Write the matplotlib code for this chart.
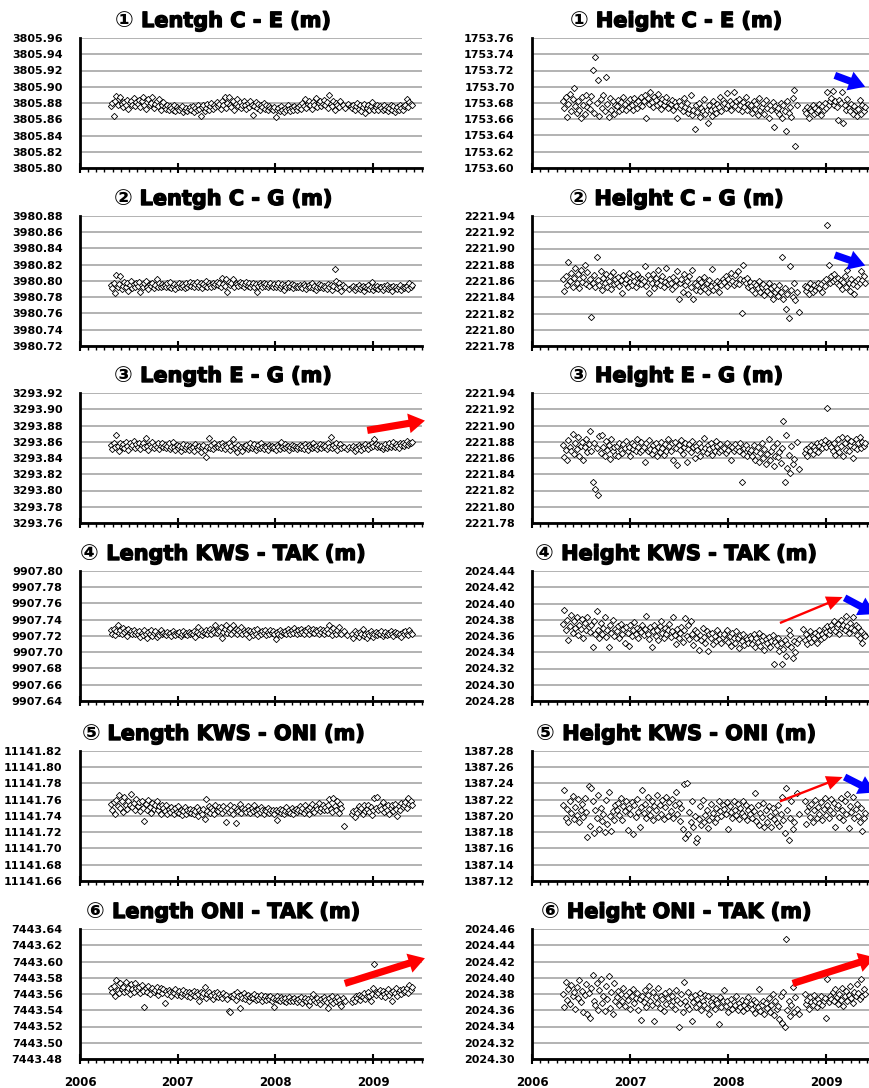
import matplotlib
matplotlib.use('Agg')
import matplotlib.pyplot as plt
import matplotlib.patheffects as pe
from matplotlib.ticker import MultipleLocator, FormatStrFormatter
import numpy as np
import pandas as pd

# observation epochs (every 5 days)
epochs = pd.date_range('2006-04-27', '2009-05-30', freq='5D')

titles = [
    ('\u2460 Lentgh C - E (m)', '\u2460 Height C - E (m)'),
    ('\u2461 Lentgh C - G (m)', '\u2461 Height C - G (m)'),
    ('\u2462 Length E - G (m)', '\u2462 Height E - G (m)'),
    ('\u2463 Length KWS - TAK (m)', '\u2463 Height KWS - TAK (m)'),
    ('\u2464 Length KWS - ONI (m)', '\u2464 Height KWS - ONI (m)'),
    ('\u2465 Length ONI - TAK (m)', '\u2465 Height ONI - TAK (m)'),
]

# y-axis lower limits (range is 0.16 m for every panel)
ylow = [(3805.80, 1753.60), (3980.72, 2221.78), (3293.76, 2221.78),
        (9907.64, 2024.28), (11141.66, 1387.12), (7443.48, 2024.30)]

# base value for each series, offsets below are in mm
bases = [(3805.860, 1753.600), (3980.780, 2221.800), (3293.840, 2221.800),
         (9907.710, 2024.300), (11141.730, 1387.100), (7443.530, 2024.300)]

len_ce = [16, 20, 4, 23, 29, 18, 25, 28, 19, 15, 21, 17, 24, 13, 20, 22, 18, 26, 16, 21,
          19, 24, 15, 22, 27, 18, 13, 21, 25, 17, 20, 28, 14, 19, 23, 16, 25, 12, 18, 21,
          15, 13, 17, 11, 16, 14, 12, 18, 10, 15, 13, 11, 14, 16, 9, 12, 14, 10, 13, 15,
          11, 16, 9, 14, 12, 18, 13, 4, 15, 17, 10, 14, 19, 12, 16, 20, 13, 17, 15, 21,
          16, 19, 13, 22, 17, 27, 14, 20, 28, 18, 15, 23, 12, 19, 25, 16, 21, 14, 18, 22,
          17, 13, 20, 15, 22, 18, 5, 16, 21, 14, 19, 12, 17, 15, 20, 13, 18, 11, 16, 14,
          13, 11, 15, 3, 12, 14, 10, 16, 12, 9, 14, 11, 17, 13, 10, 15, 12, 16, 14, 11,
          15, 18, 13, 20, 16, 25, 14, 19, 22, 17, 13, 21, 18, 26, 15, 20, 23, 16, 19, 24,
          17, 21, 14, 30, 19, 16, 23, 12, 20, 18, 15, 22, None, 17, None, 14, None, 19, None, 16,
          14, 18, 12, 16, 20, 13, 17, 10, 15, 19, 8, 14, 17, 12, 16, 21, 13, 11, 15, 18,
          12, 16, 14, 11, 17, 13, 15, 10, 14, 18, 12, 16, 9, 13, 15, 11, 17, 14, 12, 16,
          18, 25, 15, 21, 19, 17]

hgt_ce = [82, 74, 88, 63, 79, 91, 70, 85, 99, 76, 68, 83, 72, 62, 87, 78, 66, 90, 75, 81,
          73, 89, 121, 68, 137, 80, 108, 64, 85, 74, 90, 70, 112, 79, 63, 86, 72, 83, 67, 78,
          76, 84, 70, 81, 73, 87, 79, 71, 83, 75, 85, 77, 72, 86, 80, 74, 82, 78, 88, 76,
          83, 90, 61, 86, 79, 93, 81, 75, 88, 84, 77, 91, 80, 73, 85, 78, 82, 87, 74, 80,
          79, 84, 72, 81, 76, 61, 83, 74, 78, 70, 86, 75, 80, 68, 73, 90, 65, 71, 48, 77,
          69, 80, 63, 74, 70, 85, 66, 72, 55, 77, 71, 64, 82, 73, 68, 79, 75, 88, 70, 84,
          80, 74, 92, 77, 83, 71, 79, 94, 76, 82, 73, 85, 78, 70, 81, 75, 87, 72, 79, 76,
          77, 68, 82, 73, 79, 65, 86, 71, 75, 80, 67, 84, 74, 62, 78, 72, 81, 51, 76, 70,
          74, 66, 80, 61, 77, 70, 46, 83, 68, 75, 63, 86, 96, 27, 78, None, None, None, None, None,
          71, 68, 75, 62, 73, 70, 77, 66, 74, 69, 72, 79, 65, 76, 71, 80, 74, 94, 78, 83,
          86, 95, 77, 82, 75, 59, 84, 80, 94, 56, 78, 72, 85, 74, 70, 79, 67, 76, 71, 64,
          73, 84, 66, 78, 70, 75]

len_cg = [15, 11, 18, 5, 27, 13, 16, 26, 10, 14, 19, 12, 17, 8, 15, 20, 11, 16, 13, 18,
          14, 19, 6, 15, 12, 17, 20, 13, 10, 16, 14, 18, 11, 15, 22, 13, 17, 12, 16, 14,
          15, 12, 17, 13, 19, 11, 14, 16, 10, 15, 13, 18, 12, 16, 14, 11, 17, 13, 15, 19,
          14, 17, 12, 16, 19, 13, 15, 18, 11, 16, 14, 20, 13, 17, 15, 12, 18, 14, 16, 19,
          15, 18, 13, 24, 16, 14, 23, 7, 19, 15, 17, 22, 12, 18, 16, 14, 19, 15, 17, 13,
          16, 19, 14, 17, 12, 15, 18, 13, 16, 7, 14, 17, 15, 12, 18, 14, 16, 13, 15, 17,
          14, 12, 16, 13, 15, 17, 11, 14, 16, 9, 15, 13, 17, 12, 14, 16, 11, 15, 13, 14,
          12, 15, 13, 11, 16, 14, 10, 13, 15, 12, 17, 11, 14, 9, 13, 16, 12, 15, 11, 14,
          13, 10, 16, 12, 15, 9, 14, 35, 20, 11, 17, 13, 8, 15, None, 12, None, None, 10, None,
          12, 14, 9, 13, 11, 15, 10, 12, 14, 8, 13, 11, 15, 10, 12, 19, 9, 13, 11, 14,
          10, 13, 12, 9, 14, 11, 15, 10, 13, 12, 8, 14, 11, 13, 10, 12, 15, 9, 13, 11,
          12, 14, 10, 17, 13, 15]

hgt_cg = [62, 48, 66, 55, 83, 60, 70, 53, 64, 76, 57, 68, 51, 73, 59, 65, 80, 56, 71, 54,
          63, 16, 58, 67, 52, 89, 61, 55, 72, 49, 64, 57, 69, 53, 60, 66, 50, 71, 56, 62,
          58, 65, 54, 61, 45, 67, 57, 63, 52, 70, 59, 55, 66, 60, 53, 68, 58, 64, 56, 62,
          60, 79, 54, 67, 45, 62, 58, 69, 51, 64, 57, 73, 55, 61, 66, 52, 59, 76, 56, 63,
          58, 50, 65, 54, 61, 72, 38, 57, 63, 47, 68, 55, 60, 44, 66, 52, 74, 38, 58, 49,
          55, 62, 48, 59, 53, 65, 50, 57, 46, 61, 54, 75, 49, 56, 52, 60, 47, 58, 55, 63,
          59, 66, 54, 62, 57, 70, 60, 55, 67, 58, 72, 56, 63, 21, 80, 61, 57, 64, 52, 59,
          54, 49, 58, 45, 55, 51, 60, 47, 53, 56, 43, 52, 48, 57, 44, 51, 38, 54, 46, 50,
          42, 55, 47, 89, 38, 51, 26, 44, 15, 78, 49, 40, 58, 36, 46, None, 22, None, None, None,
          54, 48, 52, 44, 57, 50, 46, 55, 49, 53, 58, 51, 56, 47, 60, 54, 62, 129, 80, 57,
          66, 60, 68, 63, 57, 64, 55, 61, 50, 59, 66, 53, 73, 58, 48, 62, 56, 44, 60, 54,
          63, 58, 72, 61, 66, 57]

len_eg = [16, 11, 18, 13, 28, 15, 9, 19, 14, 17, 12, 20, 15, 10, 18, 13, 16, 21, 12, 17,
          14, 18, 11, 16, 19, 13, 25, 15, 10, 17, 14, 20, 12, 16, 13, 18, 11, 15, 19, 14,
          16, 12, 15, 18, 11, 14, 20, 13, 10, 16, 12, 15, 9, 14, 17, 11, 13, 16, 10, 15,
          12, 14, 9, 17, 13, 11, 15, 8, 13, 16, 10, 1, 14, 25, 12, 16, 11, 18, 13, 15,
          14, 17, 12, 19, 15, 11, 16, 13, 18, 10, 15, 23, 12, 14, 8, 16, 11, 13, 9, 15,
          13, 16, 11, 14, 19, 12, 15, 17, 10, 14, 16, 12, 18, 13, 11, 15, 14, 10, 16, 13,
          15, 12, 14, 10, 16, 13, 11, 20, 14, 12, 17, 13, 15, 10, 14, 16, 12, 15, 13, 11,
          14, 16, 12, 15, 11, 17, 13, 10, 16, 14, 12, 18, 13, 15, 11, 14, 17, 12, 16, 13,
          15, 11, 18, 14, 26, 12, 16, 13, 19, 10, 15, 17, 12, None, 14, None, 11, None, 13, None,
          12, 15, 9, 14, 11, 16, 13, 10, 15, 12, 17, 14, 11, 16, 13, 19, 15, 24, 17, 14,
          16, 13, 15, 11, 14, 17, 12, 15, 18, 13, 16, 20, 14, 17, 15, 12, 18, 16, 19, 15,
          17, 21, 16, 19, 18, 20]

hgt_eg = [76, 61, 70, 57, 82, 74, 68, 89, 65, 78, 71, 86, 63, 75, 80, 58, 73, 84, 67, 77,
          93, 69, 31, 79, 22, 72, 15, 87, 66, 88, 74, 62, 81, 70, 76, 59, 83, 68, 73, 64,
          75, 62, 79, 70, 66, 77, 72, 81, 68, 74, 63, 78, 71, 76, 69, 83, 73, 67, 80, 70,
          74, 55, 78, 68, 82, 71, 65, 76, 70, 79, 62, 73, 67, 80, 72, 64, 77, 69, 83, 75,
          68, 78, 57, 80, 72, 51, 76, 70, 82, 65, 74, 79, 55, 71, 77, 67, 81, 73, 60, 75,
          70, 78, 63, 74, 68, 85, 72, 66, 76, 71, 79, 64, 73, 69, 81, 75, 67, 77, 70, 74,
          72, 66, 78, 70, 75, 57, 73, 68, 77, 71, 74, 69, 79, 31, 65, 72, 76, 63, 71, 67,
          70, 62, 76, 58, 68, 73, 55, 66, 78, 60, 71, 52, 65, 84, 57, 69, 74, 50, 63, 79,
          61, 67, 54, 72, 106, 31, 88, 48, 64, 41, 75, 53, 59, None, 80, None, 46, None, None, None,
          66, 71, 62, 74, 68, 76, 65, 73, 70, 78, 67, 75, 80, 72, 77, 82, 74, 122, 79, 76,
          73, 69, 78, 64, 72, 84, 67, 75, 86, 62, 79, 70, 85, 68, 76, 81, 60, 74, 83, 71,
          78, 86, 72, 80, 75, 79]

len_kt = [17, 13, 19, 11, 16, 23, 14, 18, 12, 20, 15, 17, 10, 19, 14, 16, 12, 18, 13, 15,
          12, 16, 9, 14, 11, 17, 13, 8, 15, 12, 18, 10, 14, 16, 9, 13, 11, 17, 12, 14,
          13, 11, 15, 12, 14, 10, 16, 13, 11, 14, 12, 15, 10, 13, 16, 12, 14, 11, 15, 13,
          14, 12, 16, 9, 15, 21, 13, 17, 11, 15, 14, 18, 12, 16, 19, 13, 17, 15, 24, 14,
          18, 16, 21, 8, 15, 19, 23, 14, 17, 20, 13, 24, 16, 19, 12, 18, 15, 21, 13, 17,
          15, 12, 18, 9, 16, 14, 11, 17, 13, 19, 10, 15, 12, 16, 14, 18, 11, 15, 13, 17,
          14, 16, 12, 6, 15, 13, 17, 11, 15, 14, 16, 12, 19, 15, 13, 17, 14, 20, 16, 13,
          17, 14, 19, 15, 12, 18, 16, 20, 13, 17, 15, 19, 14, 18, 16, 12, 19, 15, 17, 13,
          16, 19, 14, 24, 18, 11, 20, 15, 13, 17, 21, 14, 12, None, 16, None, 11, None, None, None,
          13, 7, 16, 11, 14, 9, 15, 12, 19, 10, 13, 8, 14, 11, 16, 12, 9, 13, 15, 11,
          14, 12, 16, 10, 13, 15, 11, 14, 12, 16, 13, 10, 15, 12, 14, 11, 13, 9, 15, 12,
          16, 13, 11, 17, 14, 12]

hgt_kt = [75, 92, 68, 80, 55, 72, 86, 64, 78, 70, 83, 61, 74, 69, 81, 58, 76, 67, 84, 71,
          65, 73, 47, 79, 63, 91, 68, 57, 76, 62, 70, 83, 59, 67, 46, 74, 64, 80, 60, 69,
          66, 72, 58, 75, 62, 69, 51, 71, 64, 48, 73, 60, 67, 77, 63, 70, 57, 68, 65, 74,
          61, 69, 85, 63, 56, 71, 47, 66, 74, 60, 68, 55, 72, 79, 64, 58, 70, 62, 67, 75,
          59, 66, 83, 61, 50, 69, 57, 64, 71, 53, 67, 82, 60, 73, 56, 78, 63, 49, 68, 58,
          65, 43, 61, 55, 70, 59, 52, 66, 41, 62, 57, 64, 50, 60, 54, 68, 56, 63, 51, 59,
          62, 55, 67, 53, 60, 48, 64, 57, 51, 66, 58, 45, 61, 54, 63, 49, 59, 56, 52, 60,
          57, 50, 62, 46, 58, 53, 64, 48, 55, 60, 43, 56, 51, 59, 47, 54, 61, 25, 53, 49,
          58, 42, 52, 25, 44, 55, 36, 50, 68, 61, 47, 33, 54, 40, 52, None, 56, None, None, 69,
          55, 62, 50, 58, 66, 53, 60, 57, 64, 51, 61, 68, 56, 63, 59, 70, 65, 72, 62, 67,
          74, 69, 78, 66, 71, 75, 63, 80, 70, 73, 67, 85, 72, 64, 76, 70, 83, 68, 74, 61,
          71, 58, 66, 52, 63, 60]

len_ko = [25, 18, 27, 12, 30, 22, 36, 20, 28, 15, 33, 24, 19, 29, 23, 37, 21, 26, 17, 31,
          22, 27, 16, 29, 20, 4, 25, 18, 30, 21, 14, 26, 19, 23, 28, 17, 22, 13, 24, 20,
          16, 24, 13, 19, 15, 21, 17, 12, 20, 15, 22, 14, 18, 11, 16, 21, 13, 17, 15, 19,
          14, 18, 12, 16, 21, 10, 17, 15, 13, 19, 6, 31, 16, 22, 14, 20, 17, 12, 23, 18,
          16, 21, 19, 14, 22, 17, 3, 20, 15, 24, 18, 13, 21, 1, 19, 16, 25, 14, 20, 17,
          19, 15, 22, 17, 14, 20, 16, 23, 18, 13, 19, 15, 21, 17, 12, 18, 16, 20, 14, 17,
          15, 18, 13, 17, 5, 16, 19, 14, 18, 12, 16, 21, 15, 18, 14, 20, 13, 17, 19, 15,
          18, 22, 16, 20, 14, 23, 17, 19, 12, 21, 25, 18, 15, 22, 19, 26, 16, 20, 23, 18,
          21, 17, 24, 31, 19, 15, 32, 22, 18, 28, 14, 25, 20, None, -2, None, None, None, None, None,
          12, 16, 9, 18, 14, 22, 17, 20, 13, 24, 16, 19, 23, 15, 21, 11, 18, 32, 20, 33,
          17, 22, 19, 27, 15, 21, 18, 24, 12, 20, 23, 16, 25, 19, 10, 22, 18, 26, 21, 24,
          27, 20, 32, 25, 29, 23]

hgt_ko = [113, 132, 98, 109, 92, 118, 104, 125, 96, 111, 101, 121, 93, 107, 115, 99, 122, 105, 74, 137,
          88, 135, 119, 79, 108, 97, 126, 84, 110, 94, 103, 80, 120, 90, 129, 100, 81, 106, 95, 113,
          108, 116, 101, 122, 95, 112, 106, 119, 83, 110, 102, 117, 78, 114, 99, 121, 105, 87, 111, 132,
          104, 115, 97, 123, 109, 101, 118, 95, 112, 107, 126, 99, 114, 103, 120, 96, 111, 124, 100, 117,
          106, 121, 98, 113, 129, 102, 116, 94, 110, 84, 139, 73, 141, 78, 105, 92, 118, 87, 100, 68,
          73, 96, 112, 89, 120, 93, 101, 108, 85, 95, 115, 99, 104, 92, 110, 97, 118, 106, 100, 113,
          109, 103, 117, 84, 112, 105, 98, 119, 107, 101, 115, 96, 110, 104, 118, 100, 113, 95, 108, 102,
          111, 97, 106, 128, 94, 113, 89, 104, 99, 116, 87, 108, 93, 112, 100, 86, 110, 96, 105, 91,
          114, 88, 102, 124, 95, 79, 135, 108, 70, 98, 118, 84, 92, None, 128, None, 103, None, None, None,
          118, 90, 106, 112, 99, 115, 93, 108, 120, 97, 111, 103, 117, 95, 109, 122, 101, 114, 98, 107,
          121, 104, 116, 86, 110, 113, 99, 122, 107, 95, 119, 102, 127, 85, 112, 105, 123, 98, 109, 115,
          100, 92, 110, 82, 97, 104]

len_ot = [37, 33, 40, 28, 47, 35, 31, 43, 36, 39, 32, 45, 34, 38, 30, 42, 36, 33, 44, 37,
          35, 39, 31, 41, 34, 14, 37, 33, 40, 30, 36, 38, 32, 35, 39, 29, 34, 37, 31, 36,
          19, 34, 30, 35, 32, 28, 33, 31, 36, 29, 32, 34, 27, 31, 35, 30, 33, 28, 32, 26,
          31, 29, 34, 27, 32, 30, 22, 33, 28, 31, 39, 25, 30, 33, 27, 29, 24, 31, 28, 32,
          26, 30, 28, 25, 31, 27, 29, 24, 9, 8, 28, 26, 30, 23, 33, 27, 13, 29, 25, 31,
          24, 27, 29, 22, 26, 28, 25, 30, 23, 27, 24, 26, 29, 21, 25, 28, 23, 26, 24, 27,
          22, 25, 14, 24, 27, 23, 21, 26, 24, 22, 25, 20, 23, 26, 22, 24, 21, 25, 23, 20,
          24, 22, 26, 19, 23, 25, 21, 24, 17, 22, 26, 30, 23, 20, 25, 22, 18, 24, 21, 26,
          23, 20, 13, 25, 22, 27, 19, 24, 21, 26, 23, 18, 15, 25, None, 21, None, None, None, None,
          20, 24, 22, 27, 25, 29, 23, 28, 26, 31, 24, 28, 32, 27, 21, 30, 38, 67, 29, 33,
          31, 35, 28, 34, 30, 26, 33, 36, 29, 32, 22, 34, 31, 37, 28, 33, 35, 30, 36, 32,
          34, 38, 31, 41, 35, 39]

hgt_ot = [80, 64, 95, 73, 86, 68, 91, 77, 83, 62, 89, 75, 97, 70, 84, 58, 79, 92, 55, 81,
          51, 87, 103, 72, 66, 94, 60, 85, 98, 69, 78, 59, 90, 74, 102, 63, 82, 56, 93, 71,
          76, 84, 67, 80, 71, 88, 65, 79, 73, 83, 62, 77, 86, 69, 75, 81, 60, 74, 48, 78,
          70, 85, 64, 79, 90, 72, 67, 82, 47, 76, 69, 88, 63, 77, 74, 59, 81, 68, 75, 84,
          66, 78, 71, 62, 85, 73, 40, 69, 80, 58, 95, 72, 65, 83, 61, 76, 47, 70, 79, 64,
          74, 68, 81, 60, 72, 66, 79, 63, 77, 55, 70, 67, 75, 61, 73, 69, 43, 76, 64, 71,
          85, 65, 72, 58, 68, 74, 62, 70, 66, 77, 60, 69, 64, 73, 59, 67, 71, 63, 76, 65,
          68, 61, 73, 57, 70, 64, 86, 59, 66, 72, 55, 69, 63, 75, 58, 67, 80, 54, 71, 62,
          65, 49, 77, 44, 83, 40, 148, 60, 72, 53, 67, 89, 58, 76, 62, None, 55, None, None, None,
          80, 68, 73, 62, 76, 70, 66, 79, 71, 64, 74, 69, 77, 67, 72, 75, 51, 98, 70, 78,
          74, 82, 71, 86, 76, 68, 80, 73, 88, 65, 78, 84, 72, 79, 90, 75, 69, 83, 77, 92,
          81, 74, 99, 78, 86, 80]

series = [(len_ce, hgt_ce), (len_cg, hgt_cg), (len_eg, hgt_eg),
          (len_kt, hgt_kt), (len_ko, hgt_ko), (len_ot, hgt_ot)]

# trend arrows: (row, col, tail x, tail y, head x, head y, colour, thick)
arrows = [
    (0, 1, 2009.09, 1753.714, 2009.40, 1753.700, 'blue', True),
    (1, 1, 2009.09, 2221.892, 2009.40, 2221.879, 'blue', True),
    (2, 0, 2008.94, 3293.874, 2009.53, 3293.886, 'red', True),
    (3, 1, 2008.53, 2024.376, 2009.17, 2024.408, 'red', False),
    (3, 1, 2009.19, 2024.407, 2009.50, 2024.387, 'blue', True),
    (4, 1, 2008.53, 1387.218, 2009.17, 1387.248, 'red', False),
    (4, 1, 2009.19, 1387.248, 2009.50, 1387.229, 'blue', True),
    (5, 0, 2008.71, 7443.573, 2009.53, 7443.604, 'red', True),
    (5, 1, 2008.66, 2024.393, 2009.50, 2024.425, 'red', True),
]

tyear = np.asarray(epochs.year + (epochs.dayofyear - 1) / 365.25, dtype=float)

W, H = 870, 1088
fig = plt.figure(figsize=(W / 100, H / 100), dpi=100)
renderer = fig.canvas.get_renderer()
row_top = [38, 216, 393, 571, 751, 929]
ax_h = 130
col_left = [80, 532]
col_w = [342, 343]
title_x = [223, 676]
title_font = ['DejaVu Sans', 'Noto Sans CJK JP']

axes = {}
for r in range(6):
    for c in range(2):
        ax = fig.add_axes([col_left[c] / W, 1 - (row_top[r] + ax_h) / H,
                           col_w[c] / W, ax_h / H])
        axes[(r, c)] = ax
        offs = series[r][c]
        vals = bases[r][c] + np.array([np.nan if v is None else v for v in offs], float) / 1000
        n = min(len(vals), len(tyear))
        ax.plot(tyear[:n], vals[:n], ls='none', marker='D', ms=3.2,
                mfc='white', mec='black', mew=0.6)
        lo = ylow[r][c]
        ax.set_ylim(lo, lo + 0.16)
        ax.set_yticks(np.round(lo + np.arange(9) * 0.02, 2))
        ax.yaxis.set_major_formatter(FormatStrFormatter('%.2f'))
        ax.set_xlim(2006, 2009.5)
        ax.xaxis.set_major_locator(MultipleLocator(1))
        ax.xaxis.set_minor_locator(MultipleLocator(1 / 12))
        ax.grid(axis='y', color='#a6a6a6', lw=1.2)
        ax.set_axisbelow(True)
        for s in ('top', 'right'):
            ax.spines[s].set_visible(False)
        ax.spines['left'].set_linewidth(2)
        ax.spines['bottom'].set_linewidth(2)
        ax.tick_params(axis='y', length=0, pad=12.5, labelsize=8)
        ax.tick_params(axis='x', which='major', direction='inout', length=7, width=1.5)
        ax.tick_params(axis='x', which='minor', direction='out', length=3, width=1)
        for lab in ax.get_yticklabels():
            lab.set_fontweight('bold')
        if r == 5:
            ax.tick_params(axis='x', which='major', labelsize=8.5, pad=9)
            ax.set_xticks([2006, 2007, 2008, 2009])
            ax.set_xticklabels(['2006', '2007', '2008', '2009'], fontweight='bold')
        else:
            ax.tick_params(axis='x', labelbottom=False)

        # title: circled number drawn plain, the words thickened
        num, rest = titles[r][c].split(' ', 1)
        ty = 1 - (row_top[r] - 17) / H
        t1 = fig.text(0, ty, num, ha='left', va='center', fontsize=16,
                      fontweight='bold', family=title_font)
        t2 = fig.text(0, ty, ' ' + rest, ha='left', va='center', fontsize=15,
                      fontweight='bold', family=title_font,
                      path_effects=[pe.withStroke(linewidth=1.0, foreground='black')])
        w1 = t1.get_window_extent(renderer).width
        w2 = t2.get_window_extent(renderer).width
        x0 = title_x[c] - (w1 + w2) / 2
        t1.set_x(x0 / W)
        t2.set_x((x0 + w1) / W)

for r, c, x0, y0, x1, y1, col, thick in arrows:
    ax = axes[(r, c)]
    if thick:
        style = 'simple,tail_width=0.4,head_width=1.1,head_length=0.9'
    else:
        style = 'simple,tail_width=0.13,head_width=0.8,head_length=0.9'
    ax.annotate('', xy=(x1, y1), xytext=(x0, y0),
                arrowprops=dict(arrowstyle=style, fc=col, ec='none',
                                mutation_scale=13, shrinkA=0, shrinkB=0),
                annotation_clip=False)

fig.savefig('out.png', dpi=100)
